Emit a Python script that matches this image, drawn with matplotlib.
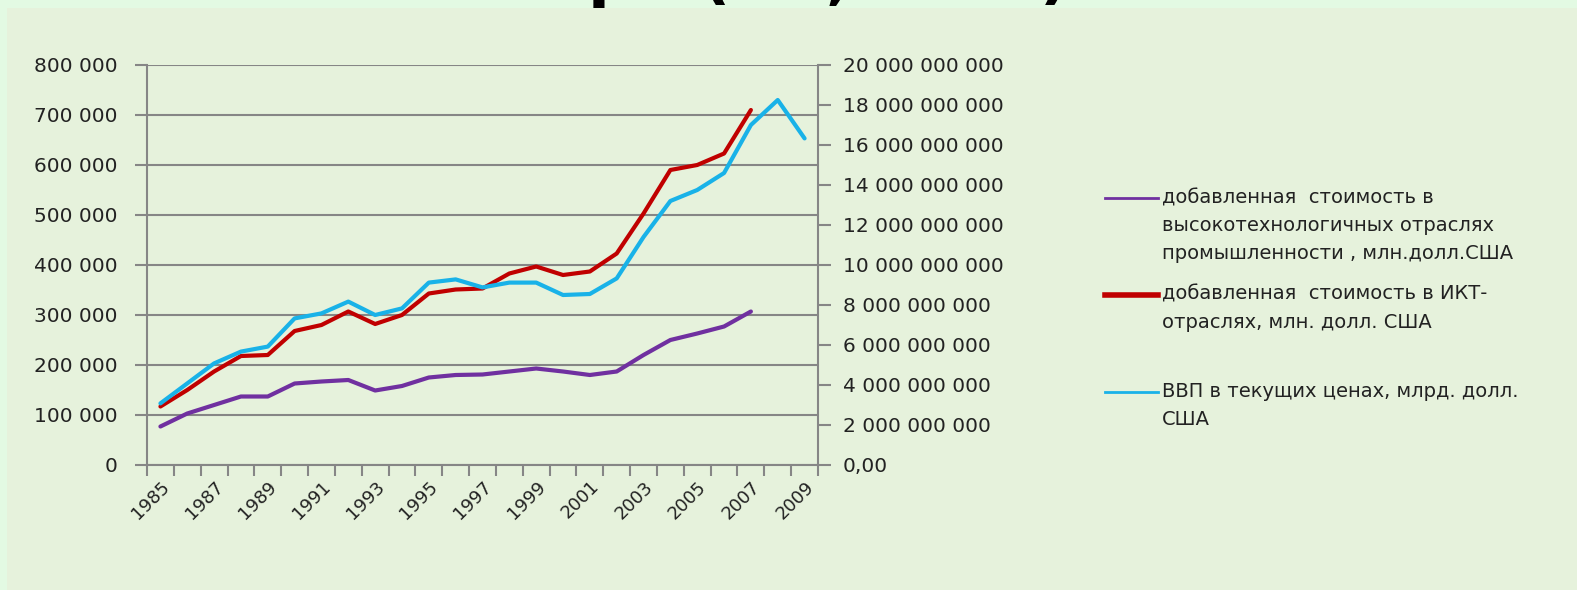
import matplotlib.pyplot as plt
from matplotlib.lines import Line2D
from matplotlib.patches import Rectangle
from matplotlib.ticker import FuncFormatter

W, H = 1577, 590

years = list(range(1985, 2010))
# value added in high-tech industries, mln USD (1985-2007)
hightech = [77000, 103000, 120000, 137000, 137000, 163000, 167000, 170000, 149000, 158000,
            175000, 180000, 181000, 187000, 193000, 187000, 180000, 187000, 220000, 250000,
            263000, 277000, 307000]
# value added in ICT industries, mln USD (1985-2007)
ict = [117000, 150000, 187000, 218000, 220000, 268000, 280000, 307000, 282000, 300000,
       343000, 351000, 353000, 383000, 397000, 380000, 387000, 423000, 503000, 590000,
       600000, 623000, 710000]
# GDP, current prices (right axis)
gdp = [3.08e9, 4.08e9, 5.08e9, 5.67e9, 5.92e9, 7.33e9, 7.58e9, 8.17e9, 7.50e9, 7.83e9,
       9.12e9, 9.28e9, 8.88e9, 9.12e9, 9.12e9, 8.50e9, 8.55e9, 9.33e9, 11.4e9, 13.2e9,
       13.75e9, 14.6e9, 17.0e9, 18.25e9, 16.33e9]

labels = ["добавленная  стоимость в\nвысокотехнологичных отраслях\nпромышленности , млн.долл.США",
          "добавленная  стоимость в ИКТ-\nотраслях, млн. долл. США",
          "ВВП в текущих ценах, млрд. долл.\nСША"]
colors = ["#7030a0", "#c00000", "#19b2e8"]

outer_bg = "#e3fae3"
chart_bg = "#e6f2dc"
grey = "#868686"
txt = "#222222"


def fx(x):
    return x / W


def fy(y):
    return 1 - y / H


plt.rcParams['font.family'] = ['DejaVu Sans']

fig = plt.figure(figsize=(W / 100, H / 100), dpi=100, facecolor=outer_bg)

# slide title cut off above the chart: only the bottoms of a few glyphs show
for s, x in [("р", 588), ("(", 700), (",", 826), (")", 1040)]:
    fig.text(fx(x), fy(-3), s, fontsize=46, fontweight='bold', ha='left', va='baseline',
             color='black', zorder=0)

fig.add_artist(Rectangle((fx(7), 0), 1 - fx(7), fy(8), transform=fig.transFigure,
                         facecolor=chart_bg, edgecolor='none', zorder=1))

ax = fig.add_axes([fx(147), fy(465), fx(818) - fx(147), fy(65) - fy(465)])
ax2 = ax.twinx()
ax.set_zorder(2)
ax2.set_zorder(3)
ax.patch.set_visible(False)
ax2.patch.set_visible(False)

idx = list(range(len(years)))
ax.plot(idx[:len(hightech)], hightech, color=colors[0], lw=3, solid_capstyle='round')
ax.plot(idx[:len(ict)], ict, color=colors[1], lw=3, solid_capstyle='round')
ax2.plot(idx, gdp, color=colors[2], lw=3, solid_capstyle='round')

ax.set_xlim(-0.5, len(years) - 0.5)
ax.set_ylim(0, 800000)
ax2.set_ylim(0, 20e9)
ax.set_yticks(range(0, 800001, 100000))
ax2.set_yticks([i * 2e9 for i in range(11)])
ax.yaxis.set_major_formatter(FuncFormatter(lambda v, p: f"{int(v):,}".replace(",", " ")))
ax2.yaxis.set_major_formatter(FuncFormatter(
    lambda v, p: "0,00" if v == 0 else f"{int(v):,}".replace(",", " ")))

ax.grid(axis='y', color=grey, lw=1.5)
ax.set_axisbelow(True)

ax.set_xticks([i - 0.5 for i in range(len(years) + 1)])
ax.set_xticklabels([])
ax.set_xticks(idx[::2], [str(y) for y in years[::2]], minor=True)
ax.tick_params(axis='x', which='major', direction='out', length=8, width=1.5, color=grey)
ax.tick_params(axis='x', which='minor', length=0, pad=9, labelsize=13, labelcolor=txt)
for t in ax.get_xticklabels(minor=True):
    t.set_rotation(45)
    t.set_ha('right')
    t.set_rotation_mode('anchor')

ax.tick_params(axis='y', direction='out', length=9, width=1.5, color=grey, pad=12,
               labelsize=14.5, labelcolor=txt)
ax2.tick_params(axis='y', direction='out', length=9, width=1.5, color=grey, pad=9,
                labelsize=14.5, labelcolor=txt)

for a in (ax, ax2):
    for side in ('top', 'right', 'left', 'bottom'):
        a.spines[side].set_visible(False)
ax.spines['left'].set_visible(True)
ax.spines['bottom'].set_visible(True)
ax2.spines['right'].set_visible(True)
for sp in (ax.spines['left'], ax.spines['bottom'], ax2.spines['right']):
    sp.set_color(grey)
    sp.set_linewidth(1.5)

# legend
legend_y = [198, 295, 392]
legend_lw = [2, 4, 2]
for lab, c, y, lw in zip(labels, colors, legend_y, legend_lw):
    fig.add_artist(Line2D([fx(1105), fx(1158)], [fy(y), fy(y)], color=c, lw=lw,
                          transform=fig.transFigure))
    fig.text(fx(1162), fy(y - 10), lab, fontsize=14, color=txt, ha='left', va='top',
             linespacing=1.6)

plt.savefig("out.png", dpi=100, facecolor=outer_bg)
